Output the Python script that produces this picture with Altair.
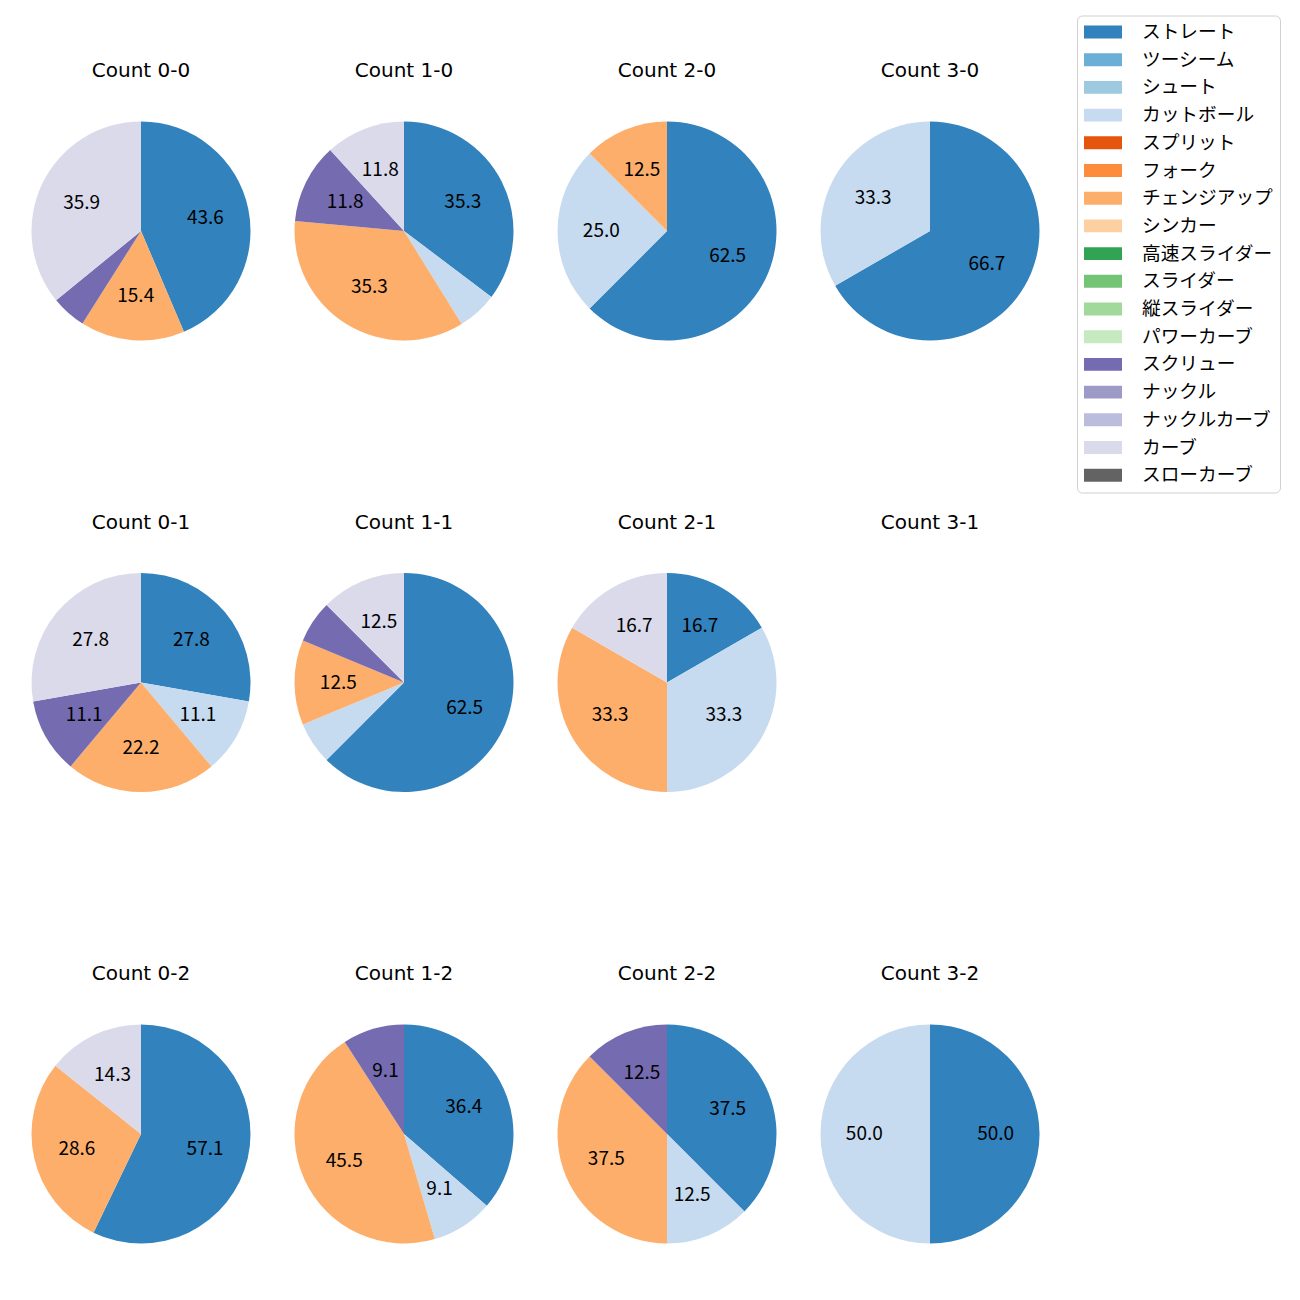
import altair as alt
import pandas as pd

FONT = "Noto Sans CJK JP"
TITLE_FONT = "DejaVu Sans"

pitch_types = ["ストレート", "ツーシーム", "シュート", "カットボール", "スプリット", "フォーク",
               "チェンジアップ", "シンカー", "高速スライダー", "スライダー", "縦スライダー",
               "パワーカーブ", "スクリュー", "ナックル", "ナックルカーブ", "カーブ", "スローカーブ"]
pitch_colors = ["#3182bd", "#6baed6", "#9ecae1", "#c6dbef", "#e6550d", "#fd8d3c",
                "#fdae6b", "#fdd0a2", "#31a354", "#74c476", "#a1d99b", "#c7e9c0",
                "#756bb1", "#9e9ac8", "#bcbddc", "#dadaeb", "#636363"]

panel_counts = ["0-0", "1-0", "2-0", "3-0",
                "0-1", "1-1", "2-1", "3-1",
                "0-2", "1-2", "2-2", "3-2"]

# pitches per count (number of pitches by type)
c_0_0 = {"ストレート": 17, "チェンジアップ": 6, "スクリュー": 2, "カーブ": 14}
c_1_0 = {"ストレート": 6, "カットボール": 1, "チェンジアップ": 6, "スクリュー": 2, "カーブ": 2}
c_2_0 = {"ストレート": 5, "カットボール": 2, "チェンジアップ": 1}
c_3_0 = {"ストレート": 2, "カットボール": 1}
c_0_1 = {"ストレート": 5, "カットボール": 2, "チェンジアップ": 4, "スクリュー": 2, "カーブ": 5}
c_1_1 = {"ストレート": 10, "カットボール": 1, "チェンジアップ": 2, "スクリュー": 1, "カーブ": 2}
c_2_1 = {"ストレート": 1, "カットボール": 2, "チェンジアップ": 2, "カーブ": 1}
c_3_1 = {}
c_0_2 = {"ストレート": 4, "チェンジアップ": 2, "カーブ": 1}
c_1_2 = {"ストレート": 4, "カットボール": 1, "チェンジアップ": 5, "スクリュー": 1}
c_2_2 = {"ストレート": 3, "カットボール": 1, "チェンジアップ": 3, "スクリュー": 1}
c_3_2 = {"ストレート": 1, "カットボール": 1}

panel_data = [c_0_0, c_1_0, c_2_0, c_3_0, c_0_1, c_1_1, c_2_1, c_3_1,
              c_0_2, c_1_2, c_2_2, c_3_2]

LABEL_MIN = 8.0
R = 109.5

legend = alt.Legend(
    title=None, orient="none", legendX=1046, legendY=-105.5,
    symbolType="M-1,-0.68H3V0.68H-1Z", symbolSize=361, symbolStrokeWidth=0,
    symbolOpacity=1,
    labelFont=FONT, labelFontSize=18.7, labelColor="black", labelOffset=39,
    rowPadding=7.7, padding=7, strokeColor="#d0d0d0", cornerRadius=5,
    fillColor="white",
)
color_scale = alt.Scale(domain=pitch_types, range=pitch_colors)

charts = []
for cnt, d in zip(panel_counts, panel_data):
    total = sum(d.values())
    rows = []
    for t in pitch_types:
        if t in d:
            pct = d[t] / total * 100
            rows.append({"type": t, "idx": pitch_types.index(t), "pct": pct,
                         "label": f"{pct:.1f}" if pct >= LABEL_MIN else ""})
    df = pd.DataFrame(rows, columns=["type", "idx", "pct", "label"])
    base = alt.Chart(df).encode(
        theta=alt.Theta("pct:Q", stack=True, scale=alt.Scale(domain=[0, 100])),
        order=alt.Order("idx:Q", sort="ascending"),
    )
    arc = base.mark_arc(outerRadius=R).encode(
        color=alt.Color("type:N", scale=color_scale, legend=legend)
    )
    txt = base.mark_text(radius=R * 0.6, fontSize=19, font=FONT, color="black").encode(
        text="label:N"
    )
    ch = alt.layer(arc, txt).properties(
        width=220, height=220,
        title=alt.TitleParams(text=f"Count {cnt}", fontSize=20, font=TITLE_FONT,
                              fontWeight="normal", anchor="middle", offset=40,
                              color="black"),
    )
    charts.append(ch)

chart = alt.concat(*charts, columns=4, spacing={"row": 171.5, "column": 43}).resolve_scale(
    color="shared"
).properties(
    padding={"left": 31, "top": 15, "right": 10, "bottom": 10}
).configure_view(strokeWidth=0)

chart.save("out.html", embed_options={"renderer": "svg", "actions": False})
